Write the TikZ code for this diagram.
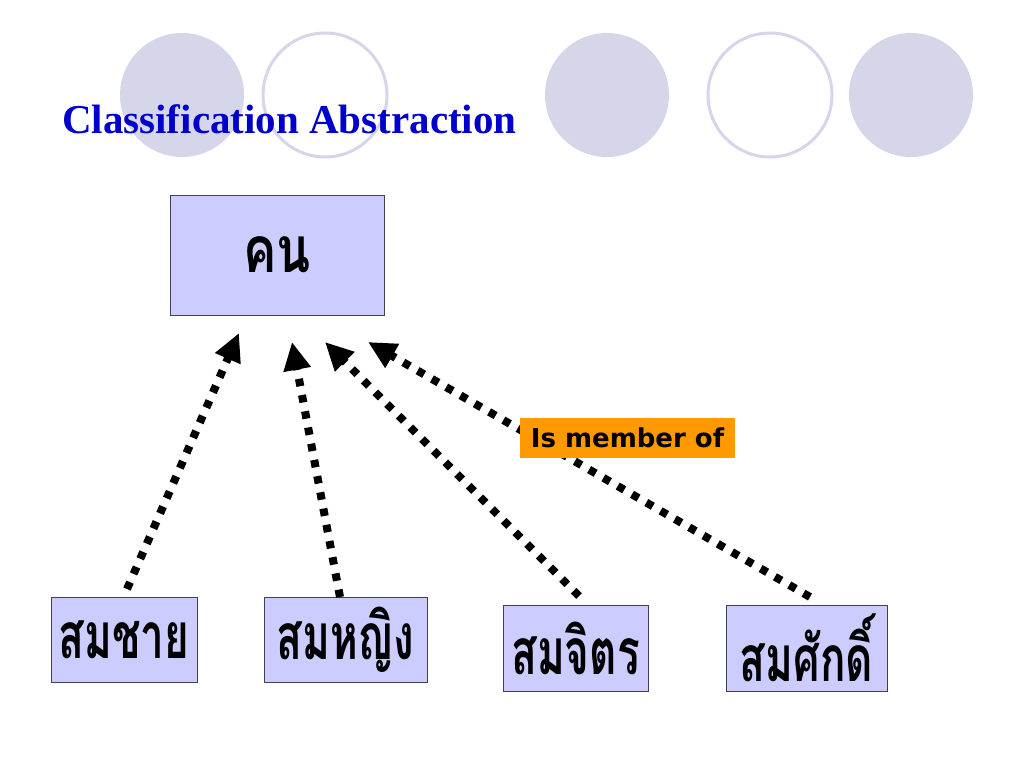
\documentclass[tikz,border=0pt]{standalone}
\usepackage{fontspec}
\setmainfont{Liberation Serif}
\newfontfamily\thaifont[Script=Thai]{Loma}
\newfontfamily\labelfont{DejaVu Sans}
\usetikzlibrary{arrows.meta}
\definecolor{circfill}{HTML}{D6D6EA}
\definecolor{boxfill}{HTML}{CCCCFF}
\definecolor{boxline}{HTML}{404050}
\definecolor{titleblue}{HTML}{0000CC}
\definecolor{labelorange}{HTML}{FF9900}
\newcommand{\thaiword}[2]{\scalebox{#1}[1]{#2}}
\tikzset{
  deco/.style={circle, minimum size=124pt, inner sep=0pt},
  decofill/.style={deco, fill=circfill},
  decoring/.style={deco, draw=circfill, line width=3pt, fill=white},
  thing/.style={draw=boxline, line width=1pt, fill=boxfill, inner sep=0pt, font=\thaifont\bfseries\fontsize{64}{70}\selectfont},
  member/.style={-{Triangle[length=28pt,width=26pt]}, line width=8pt, dash pattern=on 7.5pt off 9pt, line cap=butt},
}
\begin{document}
\begin{tikzpicture}[x=1pt,y=-1pt]
\path[use as bounding box, fill=white] (0,0) rectangle (1024,768);
% decorative circles
\node[decofill] (c1) at (182,95) {};
\node[decoring] (c2) at (325,95) {};
\node[decofill] (c3) at (607,95) {};
\node[decoring] (c4) at (770,95) {};
\node[decofill] (c5) at (911,95) {};
% title
\node[anchor=base west, inner sep=0pt, text=titleblue, font=\fontsize{41}{48}\selectfont\bfseries] (title) at (62,133) {Classification Abstraction};
% boxes
\node[thing, minimum width=214pt, minimum height=120pt] (person) at (277,255) {\thaiword{0.78}{คน}};
\node[thing, minimum width=146pt, minimum height=85pt] (s1) at (124,639.5) {\thaiword{0.66}{สมชาย}};
\node[thing, minimum width=163pt, minimum height=85pt] (s2) at (345.5,639.5) {\thaiword{0.66}{สมหญิง}};
\node[thing, minimum width=145pt, minimum height=86pt] (s3) at (575.5,648) {\thaiword{0.66}{สมจิตร}};
\node[thing, minimum width=161pt, minimum height=86pt] (s4) at (806.5,648) {\thaiword{0.66}{สมศักดิ์}};
% arrow end points
\coordinate (t1) at (239,333);
\coordinate (t2) at (292,342);
\coordinate (t3) at (325,342);
\coordinate (t4) at (368,342);
\coordinate (b1) at (127,589);
\coordinate (b2) at (340,597);
\coordinate (b3) at (579,596);
\coordinate (b4) at (810,597);
\draw[member] (b1) -- (t1);
\draw[member] (b2) -- (t2);
\draw[member] (b3) -- (t3);
\draw[member] (b4) -- (t4);
% label
\node[fill=labelorange, minimum width=215pt, minimum height=40pt, inner sep=0pt, font=\labelfont\bfseries\fontsize{26}{30}\selectfont] (lbl) at (627.5,438) {Is member of};
\end{tikzpicture}
\end{document}
